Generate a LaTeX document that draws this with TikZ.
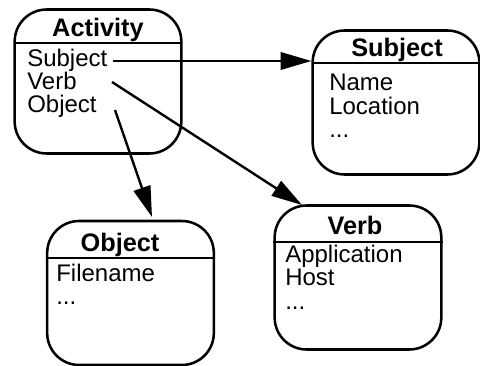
\documentclass[tikz,border=0pt]{standalone}
\usepackage{fontspec}
\setmainfont{Liberation Sans}
\usetikzlibrary{arrows.meta}

\tikzset{
  cls/.style={draw, line width=1.9pt, rounded corners=24pt, minimum width=125pt, minimum height=108pt, inner sep=0pt},
  hdr/.style={line width=1.5pt},
  ttl/.style={anchor=base, inner sep=0pt, font=\fontsize{19}{19}\selectfont\bfseries},
  itm/.style={anchor=base west, inner sep=0pt, font=\fontsize{18}{18}\selectfont},
  conn/.style={line width=1.8pt, -{Triangle[length=23pt, width=13pt]}}
}

\begin{document}
\begin{tikzpicture}[x=0.75pt, y=-0.75pt]
	\useasboundingbox (0,0) rectangle (480,366);

	% Activity
	\node[cls] (act) at (98,81.5) {};
	\draw[hdr] (14,43) -- (182,43);
	\node[ttl] (actT) at (98,37) {Activity};
	\node[itm] (aSubj) at (27,67) {Subject};
	\node[itm] (aVerb) at (27,90) {Verb};
	\node[itm] (aObj) at (27,113) {Object};

	% Subject
	\node[cls] (subj) at (396,102.5) {};
	\draw[hdr] (313,63) -- (479,63);
	\node[ttl] (subjT) at (397,57) {Subject};
	\node[itm] (sName) at (329,91) {Name};
	\node[itm] (sLoc) at (329,115) {Location};
	\node[itm] (sMore) at (329,138) {...};

	% Verb
	\node[cls] (verb) at (358,277.5) {};
	\draw[hdr] (273,242) -- (443,242);
	\node[ttl] (verbT) at (355,235) {Verb};
	\node[itm] (vApp) at (285,263) {Application};
	\node[itm] (vHost) at (285,286) {Host};
	\node[itm] (vMore) at (285,310) {...};

	% Object
	\node[cls] (obj) at (130.5,293) {};
	\draw[hdr] (46,258) -- (215,258);
	\node[ttl] (objT) at (120,252) {Object};
	\node[itm] (oFile) at (56,282) {Filename};
	\node[itm] (oMore) at (56,305) {...};

	% links
	\coordinate (subjOut) at (113,61);
	\coordinate (verbOut) at (112,82);
	\coordinate (verbIn) at (302,205);
	\coordinate (objOut) at (115,110);
	\coordinate (objIn) at (152,217);
	\draw[conn] (subjOut) -- (subjOut -| subj.west);
	\draw[conn] (verbOut) -- (verbIn);
	\draw[conn] (objOut) -- (objIn);
\end{tikzpicture}
\end{document}
